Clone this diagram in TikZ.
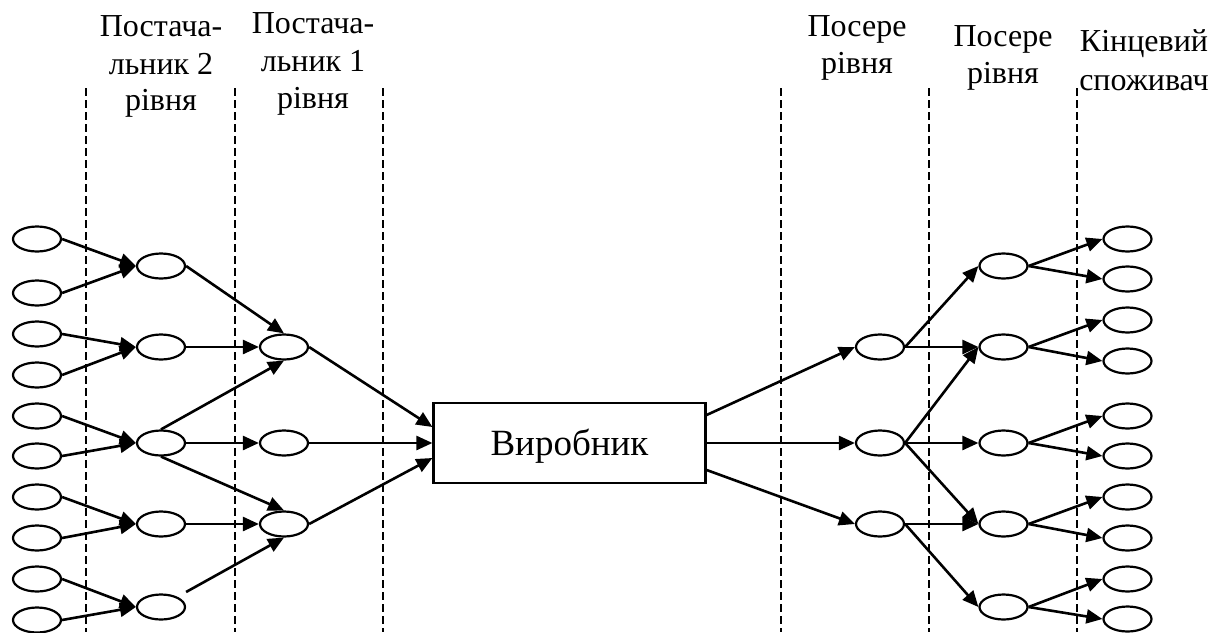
\documentclass[tikz,border=0pt]{standalone}
\usepackage{fontspec}
\setmainfont{Liberation Serif}
\usetikzlibrary{arrows.meta,shapes.geometric}
\begin{document}
\begin{tikzpicture}[x=1pt,y=-1pt,
  ell/.style={draw,ellipse,line width=2.2pt,minimum width=48pt,minimum height=25pt,inner sep=0pt},
  arr/.style={line width=2.6pt,-{Triangle[length=16pt,width=14pt]}},
  sep/.style={line width=1.5pt,dash pattern=on 8pt off 4pt},
  lab/.style={font=\fontsize{32pt}{38pt}\selectfont,anchor=base,inner sep=0pt},
  boxst/.style={draw,line width=2.2pt,minimum width=272pt,minimum height=80pt,inner sep=0pt,
    text height=25pt,text depth=0pt,font=\fontsize{37pt}{44pt}\selectfont}
]
\useasboundingbox (0,0) rectangle (1223,632);

% dashed separators
\foreach \x in {86,235,383,781,929,1077}
  \draw[sep] (\x,88) -- (\x,632);

% labels
\node[lab] (l1a) at (161,36) {Постача-};
\node[lab] (l1b) at (161,74) {льник 2};
\node[lab] (l1c) at (161,110) {рівня};
\node[lab] (l2a) at (313,33.3) {Постача-};
\node[lab] (l2b) at (313,71.7) {льник 1};
\node[lab] (l2c) at (313,108.3) {рівня};
\node[lab] (l3a) at (857,36.7) {Посере};
\node[lab] (l3b) at (857,73.3) {рівня};
\node[lab] (l4a) at (1003,46.7) {Посере};
\node[lab] (l4b) at (1003,83.3) {рівня};
\node[lab] (l5a) at (1144,51.7) {Кінцевий};
\node[lab] (l5b) at (1144,90) {споживач};

% ellipses
\foreach \y [count=\i] in {239,293,334,375,416,456,497,538,579,620}
  \node[ell] (a\i) at (37,\y) {};
\foreach \y [count=\i] in {266,347,443,524,607}
  \node[ell] (b\i) at (161,\y) {};
\foreach \y [count=\i] in {347,443,524}
  \node[ell] (c\i) at (284,\y) {};
\foreach \y [count=\i] in {347,443,524}
  \node[ell] (d\i) at (880,\y) {};
\foreach \y [count=\i] in {266,347,443,524,607}
  \node[ell] (e\i) at (1003.5,\y) {};
\foreach \y [count=\i] in {239,279,320,361,416,456,497,538,579,619}
  \node[ell] (f\i) at (1127.5,\y) {};

\node[boxst] (box) at (569.5,443) {Виробник};

% level 2 -> level 1 suppliers
\foreach \i in {1,...,5}{
  \pgfmathtruncatemacro{\p}{2*\i-1}
  \pgfmathtruncatemacro{\q}{2*\i}
  \draw[arr] (a\p.east) -- (b\i.west);
  \draw[arr] (a\q.east) -- (b\i.west);
}
\coordinate (s5) at ([yshift=15pt]b5.east);
\draw[arr] (b1.east) -- (c1.north);
\draw[arr] (b2.east) -- (c1.west);
\draw[arr] (b3.north) -- (c1.south);
\draw[arr] (b3.east) -- (c2.west);
\draw[arr] (b3.south) -- (c3.north);
\draw[arr] (b4.east) -- (c3.west);
\draw[arr] (s5) -- (c3.south);

% into producer
\draw[arr] (c1.east) -- ([yshift=16pt]box.west);
\draw[arr] (c2.east) -- (box.west);
\draw[arr] (c3.east) -- ([yshift=-15pt]box.west);

% out of producer
\draw[arr] ([yshift=28pt]box.east) -- (d1.west);
\draw[arr] (box.east) -- (d2.west);
\draw[arr] ([yshift=-27pt]box.east) -- (d3.west);

\draw[arr] (d1.east) -- (e1.west);
\draw[arr] (d1.east) -- (e2.west);
\draw[arr] (d2.east) -- (e2.west);
\draw[arr] (d2.east) -- (e3.west);
\draw[arr] (d2.east) -- (e4.west);
\draw[arr] (d3.east) -- (e4.west);
\draw[arr] (d3.east) -- (e5.west);

\foreach \i in {1,...,5}{
  \pgfmathtruncatemacro{\p}{2*\i-1}
  \pgfmathtruncatemacro{\q}{2*\i}
  \draw[arr] (e\i.east) -- (f\p.west);
  \draw[arr] (e\i.east) -- (f\q.west);
}
\end{tikzpicture}
\end{document}
